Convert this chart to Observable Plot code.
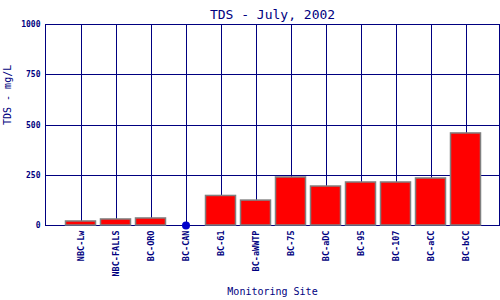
<!DOCTYPE html>
<html>
<head>
<meta charset="utf-8">
<script src="https://cdn.jsdelivr.net/npm/d3@7"></script>
<script src="https://cdn.jsdelivr.net/npm/@observablehq/plot@0.6"></script>
<style>
  html, body { margin: 0; padding: 0; background: #fff; }
  #chart svg { display: block; }
</style>
</head>
<body>
<div id="chart"></div>
<script>
const titleText = "TDS - July, 2002";
const xLabel = "Monitoring Site";
const yLabel = "TDS - mg/L";
const sites = ["NBC-Lw", "NBC-FALLS", "BC-ORO", "BC-CAN", "BC-61", "BC-aWWTP", "BC-75", "BC-aDC", "BC-95", "BC-107", "BC-aCC", "BC-bCC"];
const tds = [20, 30, 35, null, 147, 124, 239, 194, 214, 214, 234, 458];
const yTicks = [0, 250, 500, 750, 1000];

const data = sites.map((s, i) => ({site: s, value: tds[i]}));
const present = data.filter(d => d.value != null);
const missing = data.filter(d => d.value == null).map(d => ({site: d.site, value: 0}));

const navy = "#000080";
const mono = "'DejaVu Sans Mono', 'Liberation Mono', monospace";

const chart = Plot.plot({
  width: 500,
  height: 300,
  marginLeft: 45,
  marginRight: 1,
  marginTop: 24,
  marginBottom: 75,
  style: {fontFamily: mono, color: navy, background: "#fff"},
  x: {domain: sites, padding: 0, range: [62.5, 482.5], label: null},
  y: {domain: [0, 1000], label: null},
  marks: [
    Plot.ruleX(sites, {x: d => d, stroke: navy, strokeWidth: 1, shapeRendering: "crispEdges"}),
    Plot.ruleY(yTicks, {y: d => d, stroke: navy, strokeWidth: 1, shapeRendering: "crispEdges"}),
    Plot.frame({stroke: navy, strokeWidth: 1, shapeRendering: "crispEdges"}),
    Plot.barY(present, {x: "site", y: "value", fill: "#ff0000", stroke: "#808080", strokeWidth: 1.5, insetLeft: 2.5, insetRight: 2.5}),
    Plot.dot(missing, {x: "site", y: "value", r: 4, fill: "#0000cc", stroke: "none"}),
    Plot.axisY(yTicks, {tickSize: 0, tickPadding: 5, fontSize: 8, fontWeight: "bold", fill: navy, tickFormat: d => String(d), label: null}),
    Plot.axisX(sites, {tickSize: 0, tickPadding: 5, tickRotate: -90, fontSize: 8.5, fontWeight: "bold", fill: navy, label: null}),
    Plot.text([yLabel], {frameAnchor: "left", dx: -38, rotate: -90, fontSize: 10, fill: navy, text: d => d}),
    Plot.text([xLabel], {frameAnchor: "bottom", dy: 69, fontSize: 10, fill: navy, text: d => d}),
    Plot.text([titleText], {frameAnchor: "top", dy: -15, fontSize: 13, fill: navy, text: d => d})
  ]
});
document.getElementById("chart").appendChild(chart);
</script>
</body>
</html>
